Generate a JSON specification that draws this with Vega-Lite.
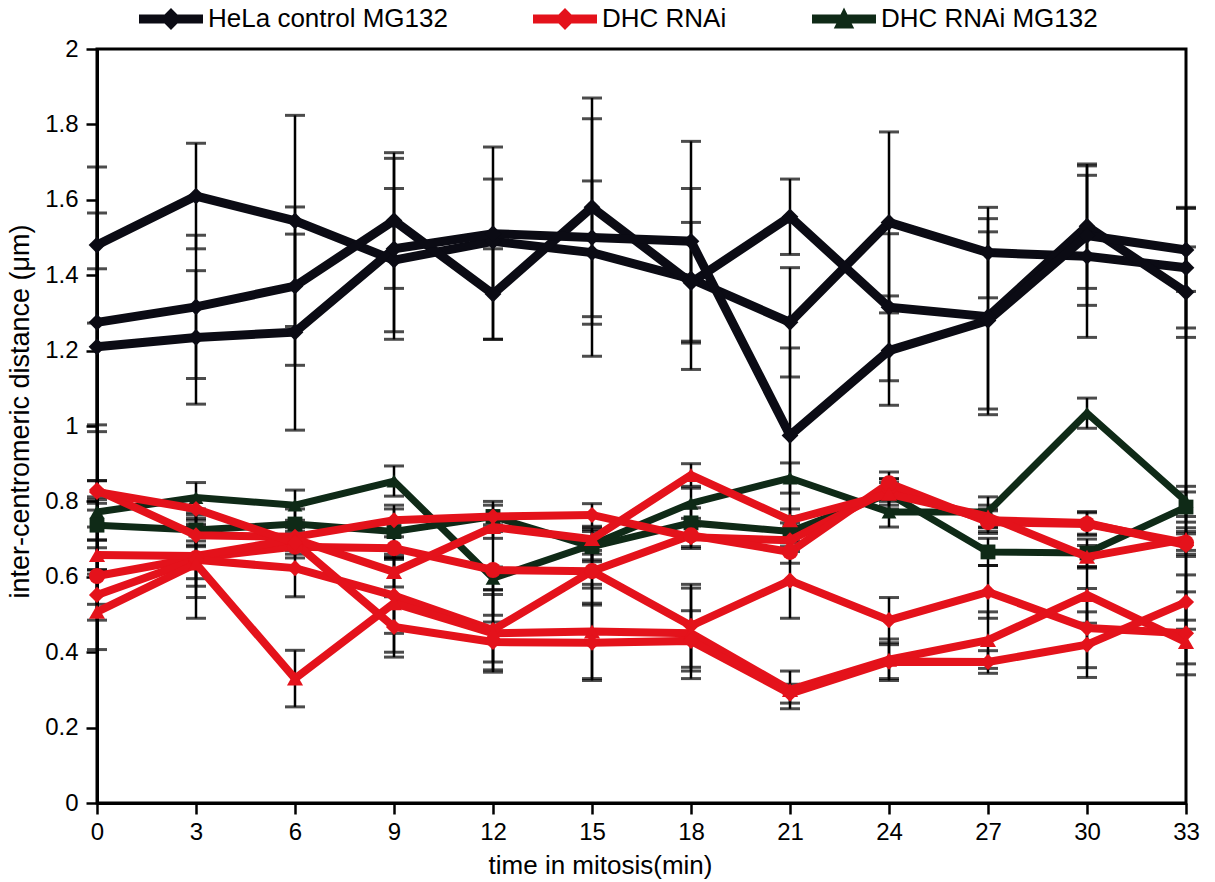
{
  "$schema": "https://vega.github.io/schema/vega-lite/v6.json",
  "autosize": {"type": "none"},
  "padding": {"left": 97, "top": 49, "right": 29, "bottom": 79},
  "width": 1089,
  "height": 754,
  "background": "white",
  "config": {
    "view": {"stroke": "black", "strokeWidth": 3},
    "axis": {"grid": false, "domainColor": "black", "domainWidth": 3, "tickColor": "black", "tickWidth": 2.5, "tickSize": 11, "labelFont": "Liberation Sans", "labelFontSize": 24, "labelColor": "black", "titleFont": "Liberation Sans", "titleFontSize": 26, "titleColor": "black", "titleFontWeight": "normal", "labelFlush": false, "labelOverlap": false}
  },
  "data": {"values": [
    {"s":"A","g":"HeLa control MG132","t":0,"v":1.48,"lo":1.273,"hi":1.687},
    {"s":"A","g":"HeLa control MG132","t":3,"v":1.61,"lo":1.47,"hi":1.75},
    {"s":"A","g":"HeLa control MG132","t":6,"v":1.544,"lo":1.264,"hi":1.824},
    {"s":"A","g":"HeLa control MG132","t":9,"v":1.44,"lo":1.25,"hi":1.63},
    {"s":"A","g":"HeLa control MG132","t":12,"v":1.49,"lo":1.23,"hi":1.74},
    {"s":"A","g":"HeLa control MG132","t":15,"v":1.46,"lo":1.27,"hi":1.65},
    {"s":"A","g":"HeLa control MG132","t":18,"v":1.39,"lo":1.15,"hi":1.63},
    {"s":"A","g":"HeLa control MG132","t":21,"v":1.275,"lo":1.13,"hi":1.42},
    {"s":"A","g":"HeLa control MG132","t":24,"v":1.54,"lo":1.3,"hi":1.78},
    {"s":"A","g":"HeLa control MG132","t":27,"v":1.46,"lo":1.34,"hi":1.58},
    {"s":"A","g":"HeLa control MG132","t":30,"v":1.45,"lo":1.235,"hi":1.665},
    {"s":"A","g":"HeLa control MG132","t":33,"v":1.42,"lo":1.26,"hi":1.58},
    {"s":"B","g":"HeLa control MG132","t":0,"v":1.275,"lo":0.985,"hi":1.565},
    {"s":"B","g":"HeLa control MG132","t":3,"v":1.316,"lo":1.126,"hi":1.506},
    {"s":"B","g":"HeLa control MG132","t":6,"v":1.371,"lo":1.161,"hi":1.581},
    {"s":"B","g":"HeLa control MG132","t":9,"v":1.545,"lo":1.365,"hi":1.725},
    {"s":"B","g":"HeLa control MG132","t":12,"v":1.35,"lo":1.23,"hi":1.47},
    {"s":"B","g":"HeLa control MG132","t":15,"v":1.58,"lo":1.29,"hi":1.87},
    {"s":"B","g":"HeLa control MG132","t":18,"v":1.38,"lo":1.22,"hi":1.54},
    {"s":"B","g":"HeLa control MG132","t":21,"v":1.555,"lo":1.455,"hi":1.655},
    {"s":"B","g":"HeLa control MG132","t":24,"v":1.315,"lo":1.12,"hi":1.51},
    {"s":"B","g":"HeLa control MG132","t":27,"v":1.29,"lo":1.03,"hi":1.55},
    {"s":"B","g":"HeLa control MG132","t":30,"v":1.53,"lo":1.365,"hi":1.695},
    {"s":"B","g":"HeLa control MG132","t":33,"v":1.355,"lo":1.235,"hi":1.475},
    {"s":"C","g":"HeLa control MG132","t":0,"v":1.21,"lo":1.003,"hi":1.417},
    {"s":"C","g":"HeLa control MG132","t":3,"v":1.235,"lo":1.058,"hi":1.412},
    {"s":"C","g":"HeLa control MG132","t":6,"v":1.249,"lo":0.989,"hi":1.509},
    {"s":"C","g":"HeLa control MG132","t":9,"v":1.47,"lo":1.23,"hi":1.71},
    {"s":"C","g":"HeLa control MG132","t":12,"v":1.51,"lo":1.365,"hi":1.655},
    {"s":"C","g":"HeLa control MG132","t":15,"v":1.5,"lo":1.185,"hi":1.815},
    {"s":"C","g":"HeLa control MG132","t":18,"v":1.49,"lo":1.225,"hi":1.755},
    {"s":"C","g":"HeLa control MG132","t":21,"v":0.975,"lo":0.743,"hi":1.207},
    {"s":"C","g":"HeLa control MG132","t":24,"v":1.2,"lo":1.055,"hi":1.345},
    {"s":"C","g":"HeLa control MG132","t":27,"v":1.28,"lo":1.045,"hi":1.515},
    {"s":"C","g":"HeLa control MG132","t":30,"v":1.505,"lo":1.32,"hi":1.69},
    {"s":"C","g":"HeLa control MG132","t":33,"v":1.467,"lo":1.357,"hi":1.577},
    {"s":"G1","g":"DHC RNAi MG132","t":0,"v":0.772,"lo":0.732,"hi":0.812},
    {"s":"G1","g":"DHC RNAi MG132","t":3,"v":0.81,"lo":0.77,"hi":0.85},
    {"s":"G1","g":"DHC RNAi MG132","t":6,"v":0.79,"lo":0.75,"hi":0.83},
    {"s":"G1","g":"DHC RNAi MG132","t":9,"v":0.854,"lo":0.814,"hi":0.894},
    {"s":"G1","g":"DHC RNAi MG132","t":12,"v":0.596,"lo":0.566,"hi":0.626},
    {"s":"G1","g":"DHC RNAi MG132","t":15,"v":0.685,"lo":0.645,"hi":0.725},
    {"s":"G1","g":"DHC RNAi MG132","t":18,"v":0.795,"lo":0.755,"hi":0.835},
    {"s":"G1","g":"DHC RNAi MG132","t":21,"v":0.862,"lo":0.822,"hi":0.902},
    {"s":"G1","g":"DHC RNAi MG132","t":24,"v":0.772,"lo":0.732,"hi":0.812},
    {"s":"G1","g":"DHC RNAi MG132","t":27,"v":0.772,"lo":0.732,"hi":0.812},
    {"s":"G1","g":"DHC RNAi MG132","t":30,"v":1.034,"lo":0.994,"hi":1.074},
    {"s":"G1","g":"DHC RNAi MG132","t":33,"v":0.8,"lo":0.76,"hi":0.84},
    {"s":"G2","g":"DHC RNAi MG132","t":0,"v":0.737,"lo":0.697,"hi":0.777},
    {"s":"G2","g":"DHC RNAi MG132","t":3,"v":0.724,"lo":0.684,"hi":0.764},
    {"s":"G2","g":"DHC RNAi MG132","t":6,"v":0.74,"lo":0.7,"hi":0.78},
    {"s":"G2","g":"DHC RNAi MG132","t":9,"v":0.72,"lo":0.65,"hi":0.79},
    {"s":"G2","g":"DHC RNAi MG132","t":12,"v":0.76,"lo":0.72,"hi":0.8},
    {"s":"G2","g":"DHC RNAi MG132","t":15,"v":0.68,"lo":0.64,"hi":0.72},
    {"s":"G2","g":"DHC RNAi MG132","t":18,"v":0.743,"lo":0.703,"hi":0.783},
    {"s":"G2","g":"DHC RNAi MG132","t":21,"v":0.72,"lo":0.68,"hi":0.76},
    {"s":"G2","g":"DHC RNAi MG132","t":24,"v":0.82,"lo":0.78,"hi":0.86},
    {"s":"G2","g":"DHC RNAi MG132","t":27,"v":0.666,"lo":0.63,"hi":0.702},
    {"s":"G2","g":"DHC RNAi MG132","t":30,"v":0.663,"lo":0.626,"hi":0.7},
    {"s":"G2","g":"DHC RNAi MG132","t":33,"v":0.785,"lo":0.745,"hi":0.825},
    {"s":"Ra","g":"DHC RNAi","t":0,"v":0.83,"lo":0.805,"hi":0.855},
    {"s":"Ra","g":"DHC RNAi","t":3,"v":0.71,"lo":0.68,"hi":0.74},
    {"s":"Ra","g":"DHC RNAi","t":6,"v":0.706,"lo":0.676,"hi":0.736},
    {"s":"Ra","g":"DHC RNAi","t":9,"v":0.75,"lo":0.72,"hi":0.78},
    {"s":"Ra","g":"DHC RNAi","t":12,"v":0.76,"lo":0.73,"hi":0.79},
    {"s":"Ra","g":"DHC RNAi","t":15,"v":0.764,"lo":0.734,"hi":0.794},
    {"s":"Ra","g":"DHC RNAi","t":18,"v":0.705,"lo":0.675,"hi":0.735},
    {"s":"Ra","g":"DHC RNAi","t":21,"v":0.697,"lo":0.667,"hi":0.727},
    {"s":"Ra","g":"DHC RNAi","t":24,"v":0.83,"lo":0.8,"hi":0.86},
    {"s":"Ra","g":"DHC RNAi","t":27,"v":0.75,"lo":0.72,"hi":0.78},
    {"s":"Ra","g":"DHC RNAi","t":30,"v":0.743,"lo":0.713,"hi":0.773},
    {"s":"Ra","g":"DHC RNAi","t":33,"v":0.684,"lo":0.654,"hi":0.714},
    {"s":"Rb","g":"DHC RNAi","t":0,"v":0.602,"lo":0.527,"hi":0.677},
    {"s":"Rb","g":"DHC RNAi","t":3,"v":0.65,"lo":0.545,"hi":0.755},
    {"s":"Rb","g":"DHC RNAi","t":6,"v":0.68,"lo":0.65,"hi":0.71},
    {"s":"Rb","g":"DHC RNAi","t":9,"v":0.676,"lo":0.646,"hi":0.706},
    {"s":"Rb","g":"DHC RNAi","t":12,"v":0.618,"lo":0.498,"hi":0.738},
    {"s":"Rb","g":"DHC RNAi","t":15,"v":0.615,"lo":0.53,"hi":0.7},
    {"s":"Rb","g":"DHC RNAi","t":18,"v":0.71,"lo":0.68,"hi":0.74},
    {"s":"Rb","g":"DHC RNAi","t":21,"v":0.666,"lo":0.636,"hi":0.696},
    {"s":"Rb","g":"DHC RNAi","t":24,"v":0.848,"lo":0.818,"hi":0.878},
    {"s":"Rb","g":"DHC RNAi","t":27,"v":0.745,"lo":0.715,"hi":0.775},
    {"s":"Rb","g":"DHC RNAi","t":30,"v":0.74,"lo":0.71,"hi":0.77},
    {"s":"Rb","g":"DHC RNAi","t":33,"v":0.69,"lo":0.66,"hi":0.72},
    {"s":"Rc","g":"DHC RNAi","t":0,"v":0.658,"lo":0.618,"hi":0.698},
    {"s":"Rc","g":"DHC RNAi","t":3,"v":0.655,"lo":0.575,"hi":0.735},
    {"s":"Rc","g":"DHC RNAi","t":6,"v":0.7,"lo":0.67,"hi":0.73},
    {"s":"Rc","g":"DHC RNAi","t":9,"v":0.613,"lo":0.573,"hi":0.653},
    {"s":"Rc","g":"DHC RNAi","t":12,"v":0.732,"lo":0.702,"hi":0.762},
    {"s":"Rc","g":"DHC RNAi","t":15,"v":0.7,"lo":0.67,"hi":0.73},
    {"s":"Rc","g":"DHC RNAi","t":18,"v":0.87,"lo":0.84,"hi":0.9},
    {"s":"Rc","g":"DHC RNAi","t":21,"v":0.75,"lo":0.72,"hi":0.78},
    {"s":"Rc","g":"DHC RNAi","t":24,"v":0.82,"lo":0.79,"hi":0.85},
    {"s":"Rc","g":"DHC RNAi","t":27,"v":0.76,"lo":0.73,"hi":0.79},
    {"s":"Rc","g":"DHC RNAi","t":30,"v":0.653,"lo":0.623,"hi":0.683},
    {"s":"Rc","g":"DHC RNAi","t":33,"v":0.7,"lo":0.67,"hi":0.73},
    {"s":"Rd","g":"DHC RNAi","t":0,"v":0.552,"lo":0.485,"hi":0.619},
    {"s":"Rd","g":"DHC RNAi","t":3,"v":0.645,"lo":0.595,"hi":0.695},
    {"s":"Rd","g":"DHC RNAi","t":6,"v":0.623,"lo":0.547,"hi":0.699},
    {"s":"Rd","g":"DHC RNAi","t":9,"v":0.55,"lo":0.45,"hi":0.65},
    {"s":"Rd","g":"DHC RNAi","t":12,"v":0.459,"lo":0.353,"hi":0.565},
    {"s":"Rd","g":"DHC RNAi","t":15,"v":0.615,"lo":0.57,"hi":0.66},
    {"s":"Rd","g":"DHC RNAi","t":18,"v":0.47,"lo":0.36,"hi":0.58},
    {"s":"Rd","g":"DHC RNAi","t":21,"v":0.59,"lo":0.49,"hi":0.69},
    {"s":"Rd","g":"DHC RNAi","t":24,"v":0.485,"lo":0.425,"hi":0.545},
    {"s":"Rd","g":"DHC RNAi","t":27,"v":0.56,"lo":0.49,"hi":0.63},
    {"s":"Rd","g":"DHC RNAi","t":30,"v":0.464,"lo":0.359,"hi":0.569},
    {"s":"Rd","g":"DHC RNAi","t":33,"v":0.45,"lo":0.34,"hi":0.56},
    {"s":"Re","g":"DHC RNAi","t":0,"v":0.507,"lo":0.407,"hi":0.607},
    {"s":"Re","g":"DHC RNAi","t":3,"v":0.635,"lo":0.49,"hi":0.78},
    {"s":"Re","g":"DHC RNAi","t":6,"v":0.33,"lo":0.255,"hi":0.405},
    {"s":"Re","g":"DHC RNAi","t":9,"v":0.53,"lo":0.4,"hi":0.66},
    {"s":"Re","g":"DHC RNAi","t":12,"v":0.45,"lo":0.347,"hi":0.553},
    {"s":"Re","g":"DHC RNAi","t":15,"v":0.455,"lo":0.33,"hi":0.58},
    {"s":"Re","g":"DHC RNAi","t":18,"v":0.45,"lo":0.33,"hi":0.57},
    {"s":"Re","g":"DHC RNAi","t":21,"v":0.3,"lo":0.25,"hi":0.35},
    {"s":"Re","g":"DHC RNAi","t":24,"v":0.38,"lo":0.325,"hi":0.435},
    {"s":"Re","g":"DHC RNAi","t":27,"v":0.432,"lo":0.357,"hi":0.507},
    {"s":"Re","g":"DHC RNAi","t":30,"v":0.552,"lo":0.477,"hi":0.627},
    {"s":"Re","g":"DHC RNAi","t":33,"v":0.427,"lo":0.369,"hi":0.485},
    {"s":"Rf","g":"DHC RNAi","t":0,"v":0.825,"lo":0.795,"hi":0.855},
    {"s":"Rf","g":"DHC RNAi","t":3,"v":0.78,"lo":0.75,"hi":0.81},
    {"s":"Rf","g":"DHC RNAi","t":6,"v":0.69,"lo":0.66,"hi":0.72},
    {"s":"Rf","g":"DHC RNAi","t":9,"v":0.467,"lo":0.387,"hi":0.547},
    {"s":"Rf","g":"DHC RNAi","t":12,"v":0.427,"lo":0.374,"hi":0.48},
    {"s":"Rf","g":"DHC RNAi","t":15,"v":0.425,"lo":0.325,"hi":0.525},
    {"s":"Rf","g":"DHC RNAi","t":18,"v":0.43,"lo":0.35,"hi":0.51},
    {"s":"Rf","g":"DHC RNAi","t":21,"v":0.29,"lo":0.265,"hi":0.315},
    {"s":"Rf","g":"DHC RNAi","t":24,"v":0.375,"lo":0.33,"hi":0.42},
    {"s":"Rf","g":"DHC RNAi","t":27,"v":0.374,"lo":0.344,"hi":0.404},
    {"s":"Rf","g":"DHC RNAi","t":30,"v":0.42,"lo":0.333,"hi":0.507},
    {"s":"Rf","g":"DHC RNAi","t":33,"v":0.533,"lo":0.461,"hi":0.605}
  ]},
  "encoding": {
    "x": {"field": "t", "type": "quantitative", "scale": {"domain": [0, 33], "nice": false, "zero": false},
      "axis": {"title": "time in mitosis(min)", "values": [0,3,6,9,12,15,18,21,24,27,30,33], "labelPadding": 6, "titleX": 503, "titleY": 70, "titleBaseline": "alphabetic", "titleAnchor": null, "titleAlign": "center"}},
    "y": {"field": "v", "type": "quantitative", "scale": {"domain": [0, 2], "nice": false},
      "axis": {"title": "inter-centromeric distance (μm)", "values": [0,0.2,0.4,0.6,0.8,1,1.2,1.4,1.6,1.8,2], "format": "~g", "labelPadding": 8, "titleX": -77, "titleY": 362, "titleAngle": -90, "titleBaseline": "middle", "titleAlign": "center", "titleFontSize": 27}}
  },
  "layer": [
    {"mark": {"type": "rule", "color": "black", "strokeWidth": 2.5},
     "encoding": {"y": {"field": "lo", "type": "quantitative"}, "y2": {"field": "hi"}}},
    {"mark": {"type": "tick", "orient": "horizontal", "color": "black", "size": 20, "thickness": 3},
     "encoding": {"y": {"field": "lo", "type": "quantitative"}}},
    {"mark": {"type": "tick", "orient": "horizontal", "color": "black", "size": 20, "thickness": 3},
     "encoding": {"y": {"field": "hi", "type": "quantitative"}}},
    {"transform": [{"filter": "datum.g === 'HeLa control MG132'"}],
     "mark": {"type": "line", "strokeWidth": 9},
     "encoding": {"detail": {"field": "s"}, "color": {"field": "g", "type": "nominal", "scale": {"domain": ["HeLa control MG132", "DHC RNAi", "DHC RNAi MG132"], "range": ["#0b0b14", "#e4121b", "#0f2a17"]},
         "legend": {"orient": "none", "legendX": 42, "legendY": -62, "direction": "horizontal", "title": null, "padding": 0,
           "symbolSize": 4096, "symbolType": "M-1,-0.14L-0.2,-0.14L0,-0.34L0.2,-0.14L1,-0.14L1,0.14L0.2,0.14L0,0.34L-0.2,0.14L-1,0.14Z",
           "symbolStrokeWidth": 0, "symbolOpacity": 1, "labelFont": "Liberation Sans", "labelFontSize": 26, "labelColor": "black", "labelOffset": 5, "columnPadding": 85, "labelLimit": 400,
           "encode": {"symbols": {"update": {
             "fill": {"scale": "color", "field": "value"},
             "fillOpacity": {"value": 1},
             "strokeWidth": {"value": 0},
             "shape": {"signal": "datum.value === 'DHC RNAi MG132' ? 'M-1,-0.14L-0.107,-0.14L0,-0.36L0.107,-0.14L1,-0.14L1,0.14L0.24,0.14L0.32,0.3L-0.32,0.3L-0.24,0.14L-1,0.14Z' : 'M-1,-0.14L-0.2,-0.14L0,-0.34L0.2,-0.14L1,-0.14L1,0.14L0.2,0.14L0,0.34L-0.2,0.14L-1,0.14Z'"}}}}}}}},
    {"transform": [{"filter": "datum.g === 'HeLa control MG132'"}],
     "mark": {"type": "point", "filled": true, "size": 280, "opacity": 1, "strokeWidth": 0},
     "encoding": {"shape": {"field": "s", "type": "nominal", "scale": {"domain": ["A","B","C","G1","G2","Ra","Rb","Rc","Rd","Re","Rf"], "range": ["diamond","diamond","diamond","triangle-up","square","diamond","circle","triangle-up","diamond","triangle-up","diamond"]}, "legend": null},
       "color": {"field": "g", "type": "nominal"}}},
    {"transform": [{"filter": "datum.g === 'DHC RNAi MG132'"}],
     "mark": {"type": "line", "strokeWidth": 7},
     "encoding": {"detail": {"field": "s"}, "color": {"field": "g", "type": "nominal"}}},
    {"transform": [{"filter": "datum.g === 'DHC RNAi MG132'"}],
     "mark": {"type": "point", "filled": true, "size": 220, "opacity": 1, "strokeWidth": 0},
     "encoding": {"shape": {"field": "s", "type": "nominal", "legend": null}, "color": {"field": "g", "type": "nominal"}}},
    {"transform": [{"filter": "datum.g === 'DHC RNAi'"}],
     "mark": {"type": "line", "strokeWidth": 8},
     "encoding": {"detail": {"field": "s"}, "color": {"field": "g", "type": "nominal"}}},
    {"transform": [{"filter": "datum.g === 'DHC RNAi'"}],
     "mark": {"type": "point", "filled": true, "size": 260, "opacity": 1, "strokeWidth": 0},
     "encoding": {"shape": {"field": "s", "type": "nominal", "legend": null}, "color": {"field": "g", "type": "nominal"}}}
  ]
}
